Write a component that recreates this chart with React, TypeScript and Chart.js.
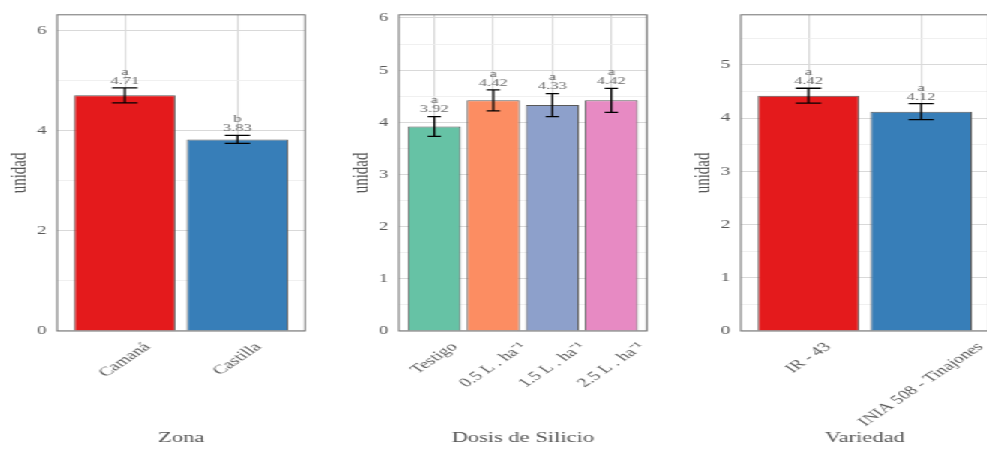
import React, { useEffect, useRef } from 'react';
import { Chart, registerables } from 'chart.js';

Chart.register(...registerables);

// ---------- data ----------
const zonaLabels = ['Camaná', 'Castilla'];
const zonaMeans = [4.71, 3.83];
const zonaSE = [0.15, 0.08];
const zonaLetters = ['a', 'b'];
const zonaColors = ['#E41A1C', '#377EB8'];
const zonaYMax = 6.32;
const zonaYStep = 2;
const zonaTitle = 'Zona';

const dosisLabels = ['Testigo', '0.5 L . ha⁻¹', '1.5 L . ha⁻¹', '2.5 L . ha⁻¹'];
const dosisMeans = [3.92, 4.42, 4.33, 4.42];
const dosisSE = [0.19, 0.2, 0.22, 0.23];
const dosisLetters = ['a', 'a', 'a', 'a'];
const dosisColors = ['#66C2A5', '#FC8D62', '#8DA0CB', '#E78AC3'];
const dosisYMax = 6.06;
const dosisYStep = 1;
const dosisTitle = 'Dosis de Silicio';

const variedadLabels = ['IR - 43', 'INIA 508 - Tinajones'];
const variedadMeans = [4.42, 4.12];
const variedadSE = [0.14, 0.15];
const variedadLetters = ['a', 'a'];
const variedadColors = ['#E41A1C', '#377EB8'];
const variedadYMax = 5.94;
const variedadYStep = 1;
const variedadTitle = 'Variedad';

const yTitle = 'unidad';

// ---------- styling ----------
const FONT = '"Liberation Serif", "Times New Roman", serif';
const PANEL_W = 228;
const PANEL_H = 452;
const TEXT_GREY = '#555555';
const TICK_GREY = '#5a5a5a';
const GRID_MAJOR = '#d9d9d9';
const GRID_MINOR = '#ececec';

type PanelProps = {
  labels: string[];
  means: number[];
  se: number[];
  letters: string[];
  colors: string[];
  yMax: number;
  yStep: number;
  title: string;
};

function Panel(p: PanelProps) {
  const ref = useRef<HTMLCanvasElement | null>(null);

  useEffect(() => {
    const n = p.labels.length;
    const isMajor = (v: number) => Math.abs(v / p.yStep - Math.round(v / p.yStep)) < 1e-6;

    const extras = {
      id: 'extras',
      afterDatasetsDraw(chart: any) {
        const ctx = chart.ctx as CanvasRenderingContext2D;
        const { left, right, top, bottom } = chart.chartArea;
        const xs = chart.scales.x;
        const ys = chart.scales.y;
        const meta = chart.getDatasetMeta(0);

        ctx.save();
        // panel border
        ctx.strokeStyle = '#6f6f6f';
        ctx.lineWidth = 1;
        ctx.strokeRect(left, top, right - left, bottom - top);

        // error bars + labels
        for (let i = 0; i < n; i++) {
          const bar = meta.data[i];
          const x = bar.x;
          const w = bar.width;
          const yT = ys.getPixelForValue(p.means[i] + p.se[i]);
          const yB = ys.getPixelForValue(p.means[i] - p.se[i]);
          const cap = w * 0.125;
          ctx.strokeStyle = '#000000';
          ctx.lineWidth = 1.3;
          ctx.beginPath();
          ctx.moveTo(x, yT);
          ctx.lineTo(x, yB);
          ctx.moveTo(x - cap, yT);
          ctx.lineTo(x + cap, yT);
          ctx.moveTo(x - cap, yB);
          ctx.lineTo(x + cap, yB);
          ctx.stroke();

          ctx.fillStyle = '#6a6a6a';
          ctx.font = `11px ${FONT}`;
          ctx.textAlign = 'center';
          ctx.textBaseline = 'middle';
          ctx.fillText(p.means[i].toFixed(2), x, yT - 7);
          ctx.fillText(p.letters[i], x, yT - 16);
        }

        // x tick labels (rotated 45°)
        ctx.fillStyle = TICK_GREY;
        ctx.font = `13px ${FONT}`;
        ctx.textAlign = 'center';
        ctx.textBaseline = 'middle';
        const s = Math.SQRT1_2;
        for (let i = 0; i < n; i++) {
          const tx = xs.getPixelForValue(i + 1);
          const L = ctx.measureText(p.labels[i]).width;
          const h = 11;
          const cy = bottom + 10 + (L / 2 + h / 2) * s;
          ctx.save();
          ctx.translate(tx, cy);
          ctx.rotate(-Math.PI / 4);
          ctx.fillText(p.labels[i], 0, 0);
          ctx.restore();
        }
        ctx.restore();
      },
    };

    const yTicks: number[] = [];
    for (let v = 0; v <= p.yMax + 1e-9; v += p.yStep / 2) yTicks.push(Math.round(v * 100) / 100);

    const chart = new Chart(ref.current as HTMLCanvasElement, {
      type: 'bar',
      data: {
        datasets: [
          {
            data: p.means.map((m, i) => ({ x: i + 1, y: m })),
            backgroundColor: p.colors,
            borderColor: '#595959',
            borderWidth: 1,
            barPercentage: 0.9,
            categoryPercentage: 1,
          },
        ],
      },
      options: {
        responsive: false,
        devicePixelRatio: 1,
        animation: false,
        events: [],
        layout: { padding: { left: 0, right: 24.7, top: 10, bottom: 0 } },
        plugins: { legend: { display: false }, tooltip: { enabled: false }, title: { display: false } },
        scales: {
          x: {
            type: 'linear',
            min: 0.4,
            max: n + 0.6,
            offset: false,
            grid: { offset: false, color: GRID_MAJOR, lineWidth: 1.1, drawTicks: false },
            border: { display: false },
            ticks: { display: false },
            afterBuildTicks: (s: any) => {
              s.ticks = p.labels.map((_, i) => ({ value: i + 1 }));
            },
            afterFit: (s: any) => {
              s.height = 121;
            },
            title: {
              display: true,
              text: p.title,
              color: TEXT_GREY,
              font: { family: FONT, size: 15 },
              padding: { top: 0, bottom: 5 },
            },
          },
          y: {
            type: 'linear',
            min: 0,
            max: p.yMax,
            grid: {
              drawTicks: false,
              color: (c: any) => (c.tick && isMajor(c.tick.value) ? GRID_MAJOR : GRID_MINOR),
              lineWidth: (c: any) => (c.tick && isMajor(c.tick.value) ? 1.1 : 0.8),
            },
            border: { display: false },
            ticks: {
              autoSkip: false,
              padding: 7,
              color: TICK_GREY,
              font: { family: FONT, size: 13 },
              callback: (v: any) => (isMajor(Number(v)) ? String(Math.round(Number(v))) : ''),
            },
            afterBuildTicks: (s: any) => {
              s.ticks = yTicks.map((v) => ({ value: v }));
            },
            afterFit: (s: any) => {
              s.width = 38;
            },
            title: {
              display: true,
              text: yTitle,
              color: TEXT_GREY,
              font: { family: FONT, size: 15 },
              padding: { top: 4, bottom: 0 },
            },
          },
        },
      },
      plugins: [extras],
    } as any);

    return () => chart.destroy();
  }, []);

  return (
    <canvas
      ref={ref}
      width={PANEL_W}
      height={PANEL_H}
      style={{ display: 'block', width: PANEL_W, height: PANEL_H, flex: '0 0 auto' }}
    />
  );
}

export default function App() {
  return (
    <div
      style={{
        position: 'absolute',
        left: 0,
        top: 0,
        width: 987,
        height: 452,
        overflow: 'hidden',
        background: '#ffffff',
      }}
    >
      <div
        style={{
          display: 'flex',
          width: PANEL_W * 3,
          height: PANEL_H,
          transform: 'scaleX(1.5)',
          transformOrigin: '0 0',
        }}
      >
        <Panel
          labels={zonaLabels}
          means={zonaMeans}
          se={zonaSE}
          letters={zonaLetters}
          colors={zonaColors}
          yMax={zonaYMax}
          yStep={zonaYStep}
          title={zonaTitle}
        />
        <Panel
          labels={dosisLabels}
          means={dosisMeans}
          se={dosisSE}
          letters={dosisLetters}
          colors={dosisColors}
          yMax={dosisYMax}
          yStep={dosisYStep}
          title={dosisTitle}
        />
        <Panel
          labels={variedadLabels}
          means={variedadMeans}
          se={variedadSE}
          letters={variedadLetters}
          colors={variedadColors}
          yMax={variedadYMax}
          yStep={variedadYStep}
          title={variedadTitle}
        />
      </div>
    </div>
  );
}
